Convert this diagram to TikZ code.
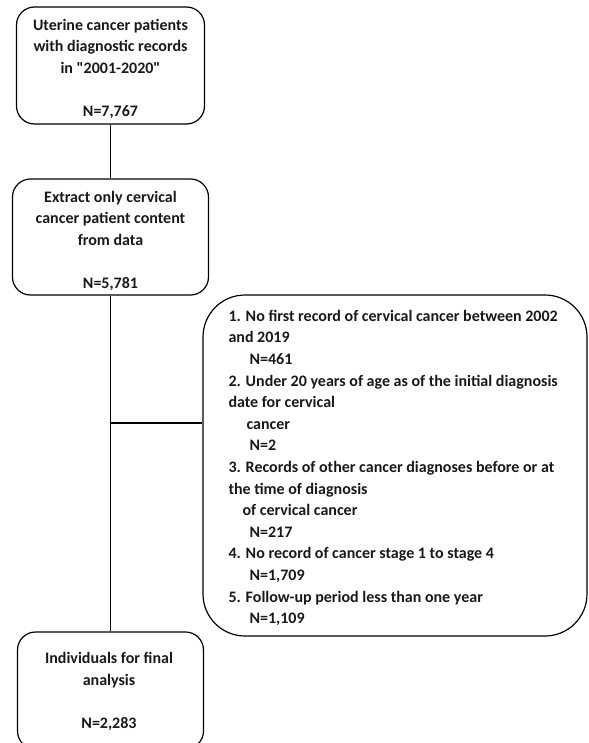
\documentclass[tikz,border=0pt]{standalone}
\usepackage{fontspec}
\setmainfont{Carlito}
\begin{document}
\begin{tikzpicture}[x=1pt,y=-1pt,
  every node/.style={font=\bfseries\fontsize{16}{21.6}\selectfont, text=black!90},
  stepbox/.style={draw, line width=1.2pt, rounded corners=18pt, inner sep=0pt},
  conn/.style={draw, line width=1.2pt}]
\useasboundingbox (0,0) rectangle (588,743);
\clip (0,0) rectangle (588,743);
% box 1
\node[stepbox, minimum width=188, minimum height=117] (b1) at (110.5,65.5) {};
\node[align=center] (t1) at (110.5,69) {Uterine cancer patients\\with diagnostic records\\in \textquotedbl 2001-2020\textquotedbl\\[21.6pt]N=7,767};
% box 2
\node[stepbox, minimum width=196, minimum height=116] (b2) at (110.5,237) {};
\node[align=center] (t2) at (110.5,241) {Extract only cervical\\cancer patient content\\from data\\[21.6pt]N=5,781};
% box 3
\node[stepbox, minimum width=186, minimum height=117] (b3) at (110.5,690.5) {};
\node[align=center] (t3) at (109,691.5) {Individuals for final\\analysis\\[21.6pt]N=2,283};
% exclusion box
\node[stepbox, rounded corners=42pt, minimum width=384, minimum height=341] (ex) at (395,465.5) {};
\node[align=left, anchor=west] (tx) at (225,468) {1. No first record of cervical cancer between 2002\\and 2019\\\hspace*{21pt}N=461\\2. Under 20 years of age as of the initial diagnosis\\date for cervical\\\hspace*{18pt}cancer\\\hspace*{21pt}N=2\\3. Records of other cancer diagnoses before or at\\the time of diagnosis\\\hspace*{14pt}of cervical cancer\\\hspace*{21pt}N=217\\4. No record of cancer stage 1 to stage 4\\\hspace*{21pt}N=1,709\\5. Follow-up period less than one year\\\hspace*{21pt}N=1,109};
% connectors
\draw[conn] (b1.south) -- (b2.north);
\draw[conn] (b2.south) -- (b3.north);
\coordinate (j) at (b2.south |- 0,423);
\draw[conn] (j) -- (j -| ex.west);
\end{tikzpicture}
\end{document}
